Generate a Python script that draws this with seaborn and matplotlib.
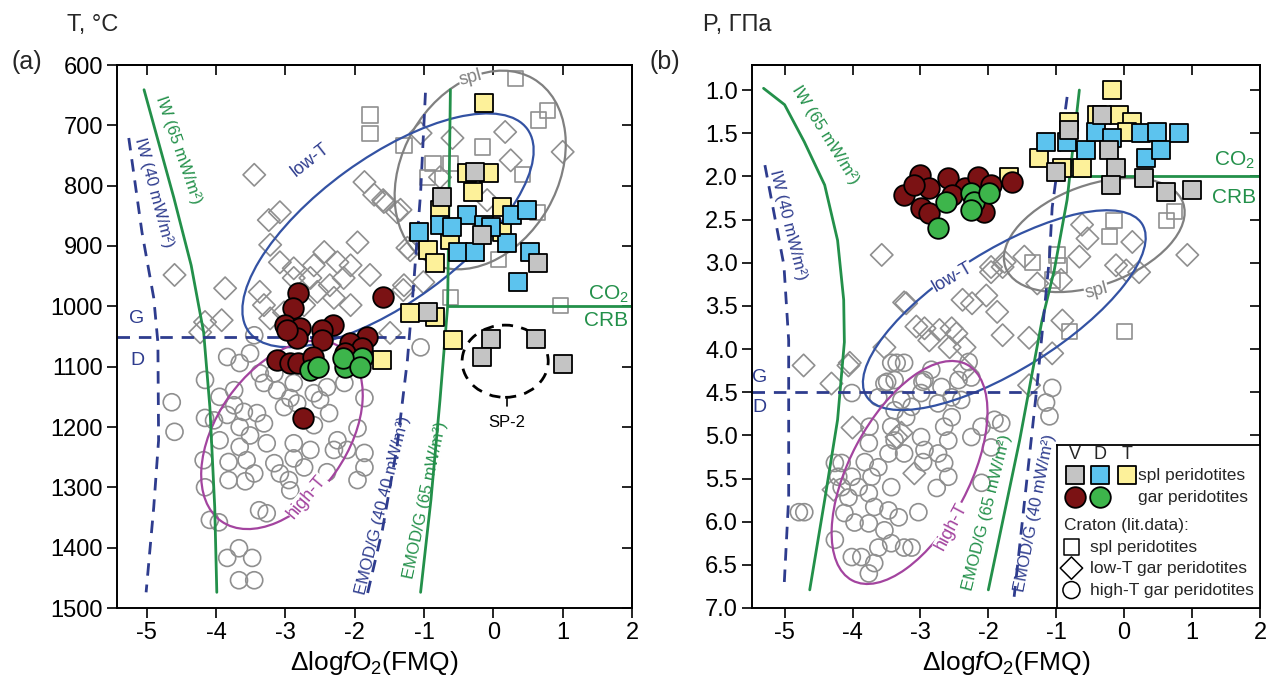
import numpy as np
import matplotlib
matplotlib.use('Agg')
import matplotlib.pyplot as plt
import matplotlib.transforms as mtransforms
from matplotlib.patches import Ellipse
import seaborn as sns

sns.set_theme(style='ticks')
plt.rcParams['font.family'] = ['Liberation Sans', 'DejaVu Sans']
plt.rcParams['mathtext.fontset'] = 'custom'
plt.rcParams['mathtext.rm'] = 'Liberation Sans'
plt.rcParams['mathtext.it'] = 'Liberation Sans:italic'
plt.rcParams['axes.unicode_minus'] = False

# ---------------- panel (a): T vs dlogfO2 ----------------
a_V_spl_x = [-0.26, -0.74, -0.16, 0.65, -0.94, -0.04, -0.16, 0.61, 1.00]
a_V_spl_T = [777, 819, 882, 928, 1010, 1054, 1084, 1054, 1096]
a_D_spl_x = [-0.38, -1.08, -0.77, -0.59, -0.14, 0.27, 0.49, -0.51, -0.26, 0.20, 0.53, 0.35, -0.04]
a_D_spl_T = [849, 877, 865, 868, 865, 849, 840, 910, 910, 895, 910, 960, 868]
a_T_spl_x = [-0.14, -0.38, -0.07, -0.29, 0.13, -0.77, -0.62, -0.94, -0.84, 0.13, -1.20, -0.84, -0.58, -1.60]
a_T_spl_T = [663, 779, 779, 810, 835, 840, 890, 907, 928, 877, 1011, 1018, 1056, 1089]
a_V_gar_x = [-2.82, -2.89, -3.00, -2.79, -2.83, -2.31, -2.47, -2.47, -1.82, -2.07, -1.89, -1.59,
             -3.12, -2.93, -2.82, -2.60, -2.75, -2.14, -2.98]
a_V_gar_T = [978, 1003, 1031, 1036, 1053, 1031, 1039, 1056, 1051, 1061, 1069, 985,
             1089, 1094, 1094, 1084, 1185, 1078, 1039]
a_D_gar_x = [-2.64, -2.53, -2.14, -1.89, -2.17, -1.92]
a_D_gar_T = [1106, 1100, 1100, 1086, 1086, 1100]

a_cr_spl_x = [-1.78, -1.78, -1.29, 0.32, 0.78, 0.65, -0.16, -0.87, -0.62, -0.95, 0.42, 0.64, 0.07, -0.62, 0.97]
a_cr_spl_T = [683, 713, 733, 622, 675, 691, 736, 763, 763, 787, 782, 844, 923, 986, 998]
a_lowT_x = [-3.45, -3.24, -3.08, -3.22, -4.60, -3.87, -4.16, -3.92, -4.23, -3.37, -3.08, -2.88,
            -2.59, -2.44, -2.25, -2.06, -1.96, -1.78, -2.16, -2.54, -2.36, -1.86, -1.72, -1.58,
            -1.39, -1.24, -1.29, -3.31, -3.02, -2.73, -3.22, -2.88, -2.30, -2.06, -2.64, -1.05,
            -0.59, 0.17, 0.25, 1.00, -0.77, -1.59, -1.34, -1.20, -1.01, -1.30, -1.49, -0.09]
a_lowT_T = [782, 857, 844, 898, 948, 970, 1026, 1023, 1043, 976, 927, 937,
            932, 910, 927, 932, 894, 948, 953, 976, 965, 794, 815, 827,
            844, 903, 965, 998, 1010, 998, 1020, 953, 986, 998, 953, 713,
            721, 711, 758, 744, 786, 824, 840, 907, 960, 973, 1044, 824]
a_highT_x = [-4.64, -4.60, -4.16, -4.16, -4.16, -4.09, -3.96, -3.84, -3.67, -3.48, -3.67, -3.45,
             -3.84, -3.66, -3.37, -3.51, -3.12, -2.88, -2.59, -2.40, -2.15, -1.86, -3.95, -3.74,
             -3.74, -3.60, -3.41, -3.31, -3.84, -4.03, -3.95, -3.66, -3.51, -3.27, -3.82, -3.66,
             -3.56, -3.45, -3.82, -3.58, -3.16, -3.08, -2.95, -2.93, -2.88, -2.64, -2.88, -3.02,
             -2.93, -2.59, -2.37, -2.50, -2.30, -2.11, -1.96, -1.86, -1.96, -2.40, -3.31, -3.16,
             -2.83, -3.38, -3.27, -2.73, -2.25, -4.18, -3.45, -1.05, -1.86]
a_highT_T = [1159, 1208, 1122, 1185, 1300, 1354, 1358, 1417, 1401, 1417, 1454, 1454,
             1084, 1094, 1111, 1078, 1139, 1127, 1144, 1134, 1127, 1152, 1150, 1139,
             1164, 1175, 1177, 1194, 1180, 1189, 1222, 1200, 1214, 1227, 1258, 1233,
             1255, 1277, 1288, 1290, 1260, 1277, 1288, 1305, 1227, 1238, 1252, 1167,
             1152, 1197, 1177, 1155, 1238, 1238, 1202, 1243, 1288, 1275, 1127, 1111,
             1161, 1338, 1343, 1267, 1222, 1255, 1048, 1068, 1267]

# boundary curves (a)
a_iw65_x = [-5.04, -4.61, -4.36, -4.18, -4.09, -4.02, -3.99]
a_iw65_T = [641, 820, 932, 1043, 1167, 1333, 1474]
a_iw40_x = [-5.26, -5.07, -4.90, -4.84, -4.83, -4.90, -5.01]
a_iw40_T = [721, 877, 986, 1060, 1222, 1333, 1474]
a_emod40_x = [-0.98, -1.05, -1.16, -1.24, -1.39, -1.60, -1.82]
a_emod40_T = [646, 812, 978, 1089, 1233, 1370, 1478]
a_emod65_x = [-0.62, -0.66, -0.77, -0.90, -1.05]
a_emod65_T = [641, 1000, 1155, 1320, 1474]
a_gd_x = [-5.43, -1.28]
a_gd_T = [1050, 1050]
a_crb_x = [-0.66, 2.0]
a_crb_T = [1000, 1000]

# ---------------- panel (b): P vs dlogfO2 ----------------
b_V_spl_x = [-0.32, -0.81, -0.22, -1.00, -0.12, -0.19, 0.29, 0.62, 1.00]
b_V_spl_P = [1.29, 1.46, 1.70, 1.95, 1.90, 2.10, 2.02, 2.18, 2.16]
b_D_spl_x = [-1.15, -0.84, -0.56, -0.41, -0.18, 0.25, 0.49, 0.32, 0.54, 0.81]
b_D_spl_P = [1.60, 1.60, 1.70, 1.49, 1.56, 1.50, 1.49, 1.79, 1.70, 1.50]
b_T_spl_x = [-0.18, -0.40, -0.07, 0.12, -0.81, -1.25, -0.62, -1.69, 0.04, -0.91]
b_T_spl_P = [1.00, 1.29, 1.29, 1.37, 1.37, 1.79, 1.90, 2.01, 1.49, 1.90]
b_V_gar_x = [-3.24, -3.01, -2.88, -2.59, -2.35, -2.15, -2.99, -2.87, -2.54, -1.96, -2.06, -1.65, -3.10]
b_V_gar_P = [2.22, 1.99, 2.14, 2.02, 2.14, 2.01, 2.37, 2.43, 2.22, 2.10, 2.41, 2.07, 2.10]
b_D_gar_x = [-2.62, -2.25, -2.21, -1.99, -2.74, -2.25]
b_D_gar_P = [2.30, 2.19, 2.30, 2.19, 2.60, 2.39]

b_cr_spl_x = [-0.15, 0.62, 0.74, -0.22, -1.35, -0.99, -0.96, -0.81, 0.00, -1.06]
b_cr_spl_P = [2.51, 2.51, 2.41, 2.70, 3.00, 2.91, 3.03, 3.80, 3.80, 3.20]
b_lowT_x = [-3.57, -3.21, -3.06, -2.87, -2.72, -2.47, -2.57, -2.35, -2.38, -2.24, -2.03, -1.87,
            -1.96, -1.79, -1.79, -1.40, -1.47, -1.28, -0.93, -0.91, -0.66, -0.62, -0.54, 0.12,
            -0.12, 0.03, 0.22, 0.93, -4.04, -3.53, -1.06, -1.40, -4.00, -3.28, -3.24, -1.96,
            -2.94, -2.54, -1.76, -4.72, -4.06, -4.31, -3.35, -4.28, -3.09, -2.35]
b_lowT_P = [2.91, 3.47, 3.74, 3.90, 3.78, 3.82, 3.98, 3.98, 3.43, 3.47, 3.38, 3.57,
            3.05, 3.05, 3.84, 3.87, 2.93, 3.24, 3.20, 3.67, 2.93, 2.56, 2.72, 2.76,
            3.03, 3.09, 3.11, 2.91, 4.16, 3.98, 4.05, 4.42, 4.91, 4.97, 3.46, 3.11,
            3.76, 3.76, 2.99, 4.19, 4.19, 4.40, 5.02, 5.63, 5.44, 4.24]
b_highT_x = [-4.01, -4.79, -4.71, -4.26, -4.16, -4.01, -3.91, -4.06, -4.12, -3.97, -3.76, -3.68,
             -3.76, -3.72, -3.62, -3.82, -3.76, -3.75, -3.43, -3.47, -3.38, -3.24, -3.43, -3.47,
             -3.32, -3.53, -3.43, -3.62, -3.87, -4.01, -3.68, -3.76, -3.24, -3.13, -3.03, -2.99,
             -2.94, -2.96, -2.74, -2.65, -2.59, -2.76, -2.65, -2.54, -2.59, -2.25, -2.10, -1.91,
             -1.81, -1.96, -2.10, -4.26, -4.21, -4.16, -3.24, -3.43, -3.38, -3.53, -3.28, -3.13,
             -2.94, -2.99, -2.84, -2.74, -2.54, -2.69, -2.40, -2.29, -2.44, -2.25, -3.38, -3.62,
             -3.35, -3.49, -2.97, -3.21, -1.06, -1.15, -1.10]
b_highT_P = [4.51, 5.89, 5.89, 6.21, 5.32, 5.48, 5.60, 5.72, 5.90, 6.01, 6.02, 5.83,
             5.67, 5.48, 5.37, 5.31, 5.09, 4.90, 4.90, 5.21, 5.06, 5.21, 5.60, 5.87,
             5.95, 6.10, 6.25, 6.30, 6.41, 6.41, 6.48, 6.60, 6.30, 6.30, 5.89, 5.02,
             5.17, 5.31, 5.21, 5.32, 5.48, 5.61, 4.90, 4.79, 5.06, 5.02, 4.90, 4.82,
             4.86, 5.14, 5.55, 5.32, 5.48, 5.60, 4.16, 4.16, 4.36, 4.40, 4.59, 4.67,
             4.36, 4.51, 4.24, 4.63, 4.56, 4.44, 4.59, 4.15, 4.36, 4.33, 4.71, 4.56,
             4.16, 4.38, 4.38, 4.79, 4.45, 4.62, 4.78]

# boundary curves (b)
b_iw65_x = [-5.31, -5.00, -4.71, -4.41, -4.22, -4.13, -4.12, -4.22, -4.41, -4.63]
b_iw65_P = [0.98, 1.17, 1.60, 2.10, 2.74, 3.43, 3.92, 4.82, 5.75, 6.79]
b_iw40_x = [-5.29, -5.01, -4.94, -4.94, -5.01]
b_iw40_P = [1.87, 3.03, 3.90, 5.72, 6.79]
b_emod65_x = [-0.66, -0.84, -1.03, -1.21, -1.54, -2.00]
b_emod65_P = [1.00, 2.27, 3.09, 3.67, 5.06, 6.79]
b_emod40_x = [-0.84, -1.06, -1.10, -1.29, -1.62]
b_emod40_P = [1.08, 2.36, 2.94, 4.48, 6.87]
b_gd_x = [-5.48, -1.29]
b_gd_P = [4.5, 4.5]
b_crb_x = [-0.84, 2.0]
b_crb_P = [2.0, 2.0]

# colours
GRAY_F, BLUE_F, YEL_F = '#c4c4c4', '#5cc3ee', '#fdf19a'
RED_F, GRN_F = '#7b1214', '#3db54b'
OPEN = '#8f8f8f'
GREEN_L, NAVY, BLUE_L, PURPLE, GRAY_L = '#23904a', '#2e3c8e', '#3352a3', '#a3449f', '#808080'

S_SQ, S_CI, S_OSQ, S_DI, S_OCI = 180, 220, 120, 130, 150


def pts(ax, x, y, marker, fc, ec, s, lw, z):
    sns.scatterplot(x=x, y=y, ax=ax, marker=marker, color=fc, edgecolor=ec,
                    s=s, linewidth=lw, zorder=z, legend=False)


def curve(ax, x, y, color, dashed=False, lw=2.0):
    ls = (0, (4.5, 3.2)) if dashed else '-'
    ax.plot(x, y, color=color, lw=lw, ls=ls, zorder=2.5)


def loop(ax, cx, cy, a_pt, b_pt, ang, color, ls='-', lw=1.6):
    tr = (mtransforms.Affine2D().scale(ax.figure.dpi / 72)
          + mtransforms.ScaledTranslation(cx, cy, ax.transData))
    ax.add_patch(Ellipse((0, 0), 2 * a_pt, 2 * b_pt, angle=ang, transform=tr,
                         fill=False, ec=color, lw=lw, ls=ls, zorder=2.4))


def label(ax, x, y, s, color, rot=0, size=12, bg=False):
    kw = dict(bbox=dict(fc='white', ec='none', pad=0.3)) if bg else {}
    ax.text(x, y, s, color=color, rotation=rot, fontsize=size, ha='center',
            va='center', rotation_mode='anchor', zorder=6, **kw)


def frame(ax, yticks, ylabels):
    xt = list(range(-5, 3))
    ax.set_xticks(xt)
    ax.set_xticklabels([str(v) for v in xt])
    ax.set_yticks(yticks)
    ax.set_yticklabels(ylabels)
    ax.tick_params(direction='out', length=7, width=1.2, labelsize=17, color='black',
                   labelcolor='black', pad=3)
    for sp in ax.spines.values():
        sp.set_visible(True)
        sp.set_linewidth(1.4)
        sp.set_color('black')
    top = ax.secondary_xaxis('top')
    top.set_xticks(xt)
    top.tick_params(direction='in', length=7, width=1.2, labeltop=False, color='black')
    right = ax.secondary_yaxis('right')
    right.set_yticks(yticks)
    right.tick_params(direction='in', length=7, width=1.2, labelright=False, color='black')
    ax.set_xlabel('Δlog$\\mathit{f}$O$_2$(FMQ)', fontsize=19, labelpad=4, color='black')
    ax.set_ylabel('')


fig = plt.figure(figsize=(12.69, 6.82), dpi=100)
axa = fig.add_axes([117 / 1269, 1 - 608 / 682, (632 - 117) / 1269, (608 - 65) / 682])
axb = fig.add_axes([752 / 1269, 1 - 608 / 682, (1260 - 752) / 1269, (608 - 65) / 682])

# ---------- panel a ----------
axa.set_xlim(-5.43, 2.0)
axa.set_ylim(1500, 600)
pts(axa, a_highT_x, a_highT_T, 'o', 'none', OPEN, S_OCI, 1.2, 2)
pts(axa, a_lowT_x, a_lowT_T, 'D', 'none', OPEN, S_DI, 1.2, 2)
pts(axa, a_cr_spl_x, a_cr_spl_T, 's', 'none', OPEN, S_OSQ, 1.2, 2)

curve(axa, a_iw65_x, a_iw65_T, GREEN_L)
curve(axa, a_iw40_x, a_iw40_T, NAVY, dashed=True)
curve(axa, a_emod40_x, a_emod40_T, NAVY, dashed=True)
curve(axa, a_emod65_x, a_emod65_T, GREEN_L)
curve(axa, a_gd_x, a_gd_T, NAVY, dashed=True)
curve(axa, a_crb_x, a_crb_T, GREEN_L)

loop(axa, -0.19, 774, 76, 56, 60, GRAY_L)
loop(axa, -1.52, 874, 124, 52, 36, BLUE_L)
loop(axa, -3.05, 1213, 76, 47, 55, PURPLE)
loop(axa, 0.17, 1091, 31, 26, 0, 'black', ls=(0, (4, 3)), lw=2.0)
axa.plot([0.19, 0.19], [1150, 1166], color='black', lw=1.2, zorder=2.5)

pts(axa, a_T_spl_x, a_T_spl_T, 's', YEL_F, 'black', S_SQ, 1.3, 5)
pts(axa, a_D_spl_x, a_D_spl_T, 's', BLUE_F, 'black', S_SQ, 1.3, 5)
pts(axa, a_V_spl_x, a_V_spl_T, 's', GRAY_F, 'black', S_SQ, 1.3, 5)
pts(axa, a_V_gar_x, a_V_gar_T, 'o', RED_F, 'black', S_CI, 1.3, 5)
pts(axa, a_D_gar_x, a_D_gar_T, 'o', GRN_F, 'black', S_CI, 1.3, 5)

label(axa, -4.55, 741, 'IW (65 mW/m²)', GREEN_L, rot=-71)
label(axa, -4.90, 812, 'IW (40 mW/m²)', NAVY, rot=-75)
label(axa, -1.60, 1330, 'EMOD/G (40 40 mW/m²)', NAVY, rot=76)
label(axa, -0.98, 1321, 'EMOD/G (65 mW/m²)', GREEN_L, rot=78)
label(axa, -5.14, 1020, 'G', NAVY, size=14)
label(axa, -5.14, 1090, 'D', NAVY, size=14)
label(axa, 1.66, 980, 'CO$_2$', GREEN_L, size=15)
label(axa, 1.63, 1023, 'CRB', GREEN_L, size=15)
label(axa, 0.20, 1192, 'SP-2', 'black', size=12)
label(axa, -0.33, 622, 'spl', GRAY_L, rot=15, size=13, bg=True)
label(axa, -2.64, 757, 'low-T', NAVY, rot=38, size=13, bg=True)
label(axa, -2.69, 1316, 'high-T', PURPLE, rot=50, size=13, bg=True)

frame(axa, list(range(600, 1501, 100)), [str(v) for v in range(600, 1501, 100)])

# ---------- panel b ----------
axb.set_xlim(-5.48, 2.0)
axb.set_ylim(7.0, 0.71)
pts(axb, b_highT_x, b_highT_P, 'o', 'none', OPEN, S_OCI, 1.2, 2)
pts(axb, b_lowT_x, b_lowT_P, 'D', 'none', OPEN, S_DI, 1.2, 2)
pts(axb, b_cr_spl_x, b_cr_spl_P, 's', 'none', OPEN, S_OSQ, 1.2, 2)

curve(axb, b_iw65_x, b_iw65_P, GREEN_L)
curve(axb, b_iw40_x, b_iw40_P, NAVY, dashed=True)
curve(axb, b_emod65_x, b_emod65_P, GREEN_L)
curve(axb, b_emod40_x, b_emod40_P, NAVY, dashed=True)
curve(axb, b_gd_x, b_gd_P, NAVY, dashed=True)
curve(axb, b_crb_x, b_crb_P, GREEN_L)

loop(axb, -0.44, 2.68, 68, 36, 20, GRAY_L)
loop(axb, -1.765, 3.55, 117, 43, 32, BLUE_L)
loop(axb, -3.16, 5.43, 88, 43, 62, PURPLE)

pts(axb, b_T_spl_x, b_T_spl_P, 's', YEL_F, 'black', S_SQ, 1.3, 5)
pts(axb, b_D_spl_x, b_D_spl_P, 's', BLUE_F, 'black', S_SQ, 1.3, 5)
pts(axb, b_V_spl_x, b_V_spl_P, 's', GRAY_F, 'black', S_SQ, 1.3, 5)
pts(axb, b_V_gar_x, b_V_gar_P, 'o', RED_F, 'black', S_CI, 1.3, 5)
pts(axb, b_D_gar_x, b_D_gar_P, 'o', GRN_F, 'black', S_CI, 1.3, 5)

label(axb, -4.40, 1.52, 'IW (65 mW/m²)', GREEN_L, rot=-58)
label(axb, -4.95, 2.56, 'IW (40 mW/m²)', NAVY, rot=-76)
label(axb, -2.02, 5.89, 'EMOD/G (65 mW/m²)', GREEN_L, rot=76)
label(axb, -1.32, 5.90, 'EMOD/G (40 mW/m²)', NAVY, rot=79)
label(axb, -5.37, 4.33, 'G', NAVY, size=14)
label(axb, -5.37, 4.68, 'D', NAVY, size=14)
label(axb, 1.62, 1.81, 'CO$_2$', GREEN_L, size=15)
label(axb, 1.62, 2.24, 'CRB', GREEN_L, size=15)
label(axb, -0.41, 3.32, 'spl', GRAY_L, rot=15, size=13, bg=True)
label(axb, -2.53, 3.17, 'low-T', NAVY, rot=30, size=13, bg=True)
label(axb, -2.54, 6.06, 'high-T', PURPLE, rot=62, size=13, bg=True)

pticks = list(np.arange(1.0, 7.01, 0.5))
frame(axb, pticks, [f'{v:.1f}' for v in pticks])

# ---------- legend box (panel b) ----------
leg = axb.inset_axes([0.600, 0.0, 0.400, 0.300])
leg.set_zorder(10)
leg.set_xlim(0, 1)
leg.set_ylim(0, 1)
leg.set_xticks([])
leg.set_yticks([])
leg.set_facecolor('white')
for sp in leg.spines.values():
    sp.set_linewidth(1.3)
    sp.set_color('black')

key_u = [0.089, 0.212, 0.345]
key_head = ['V', 'D', 'T']
key_sq = [GRAY_F, BLUE_F, YEL_F]
key_ci = [RED_F, GRN_F]
for u, h in zip(key_u, key_head):
    leg.text(u, 0.94, h, ha='center', va='center', fontsize=13)
for u, c in zip(key_u, key_sq):
    leg.scatter([u], [0.816], marker='s', s=S_SQ, fc=c, ec='black', lw=1.3)
for u, c in zip(key_u, key_ci):
    leg.scatter([u], [0.681], marker='o', s=S_CI, fc=c, ec='black', lw=1.3)
leg.text(0.40, 0.816, 'spl peridotites', ha='left', va='center', fontsize=12.5)
leg.text(0.40, 0.681, 'gar peridotites', ha='left', va='center', fontsize=12.5)
leg.text(0.034, 0.509, 'Craton (lit.data):', ha='left', va='center', fontsize=12.5)
open_keys = [('s', S_OSQ, 0.374, 'spl peridotites'),
             ('D', S_DI, 0.245, 'low-T gar peridotites'),
             ('o', S_OCI, 0.110, 'high-T gar peridotites')]
for m, s, v, t in open_keys:
    leg.scatter([0.072], [v], marker=m, s=s, fc='none', ec='black', lw=1.1)
    leg.text(0.163, v, t, ha='left', va='center', fontsize=12.5)

# ---------- panel captions ----------
fig.text(93 / 1269, 1 - 25 / 682, 'T, °C', fontsize=17, ha='center', va='center')
fig.text(27 / 1269, 1 - 62 / 682, '(a)', fontsize=18, ha='center', va='center')
fig.text(737 / 1269, 1 - 25 / 682, 'P, ГПа', fontsize=17, ha='center', va='center')
fig.text(665 / 1269, 1 - 62 / 682, '(b)', fontsize=18, ha='center', va='center')

fig.savefig('out.png', dpi=100, facecolor='white')
